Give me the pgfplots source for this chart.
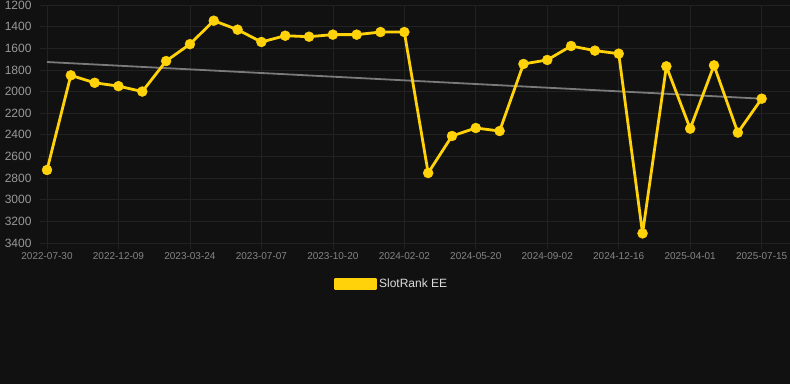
\documentclass[border=0pt]{standalone}
\usepackage{fontspec}
\setmainfont{Liberation Sans}
\usepackage{pgfplots}
\pgfplotsset{compat=1.18}
\definecolor{bg}{HTML}{111111}
\definecolor{gridc}{HTML}{222222}
\definecolor{gold}{HTML}{FFD20A}
\definecolor{trend}{HTML}{7A7A7A}
\definecolor{ylab}{HTML}{999999}
\definecolor{xlab}{HTML}{858585}
\definecolor{legtxt}{HTML}{DDDDDD}
\begin{document}
\begin{tikzpicture}
\fill[bg] (0,0) rectangle (790bp,384bp);
\useasboundingbox (0,0) rectangle (790bp,384bp);
\begin{axis}[
  at={(40bp,141bp)}, anchor=south west,
  width=750bp, height=238bp, scale only axis,
  xmin=-0.294, xmax=31.19,
  ymin=1200, ymax=3400, y dir=reverse,
  ytick={1200,1400,...,3400},
  xtick={0,3,...,30},
  xticklabels={2022-07-30,2022-12-09,2023-03-24,2023-07-07,2023-10-20,2024-02-02,2024-05-20,2024-09-02,2024-12-16,2025-04-01,2025-07-15},
  grid=major,
  major grid style={draw=gridc, line width=0.7bp},
  axis line style={draw=none},
  xtick pos=bottom, ytick pos=left, tick align=outside,
  major tick length=6bp,
  xtick style={draw=gridc, line width=0.7bp},
  ytick style={draw=none},
  /pgf/number format/assume math mode=true,
  /pgf/number format/1000 sep={},
  yticklabel style={font=\fontsize{12bp}{14bp}\selectfont, text=ylab, xshift=1bp},
  xticklabel style={font=\fontsize{10bp}{12bp}\selectfont, text=xlab, yshift=0bp},
  clip=false,
  legend style={at={(0.469,-0.172)}, anchor=center, draw=none, fill=none,
    font=\fontsize{12bp}{14bp}\selectfont, text=legtxt},
  legend cell align=left,
  legend image code/.code={\fill[gold] (-3bp,-5bp) rectangle (37bp,5bp);},
]
\addplot[trend, line width=1.8bp, forget plot] coordinates {(0,1727) (30,2066)};
\addplot[gold, line width=2.8bp, line join=round, mark=*, mark size=5bp, mark options={fill=gold, draw=gold, line width=0.4bp}] coordinates {
(0,2725) (1,1850) (2,1919) (3,1950) (4,2000) (5,1718) (6,1562) (7,1345) (8,1428) (9,1542)
(10,1484) (11,1493) (12,1474) (13,1474) (14,1450) (15,1450) (16,2753) (17,2411) (18,2337) (19,2365)
(20,1745) (21,1708) (22,1579) (23,1622) (24,1650) (25,3311) (26,1767) (27,2343) (28,1758) (29,2380)
(30,2066)};
\addlegendentry{SlotRank EE}
\end{axis}
\end{tikzpicture}
\end{document}
